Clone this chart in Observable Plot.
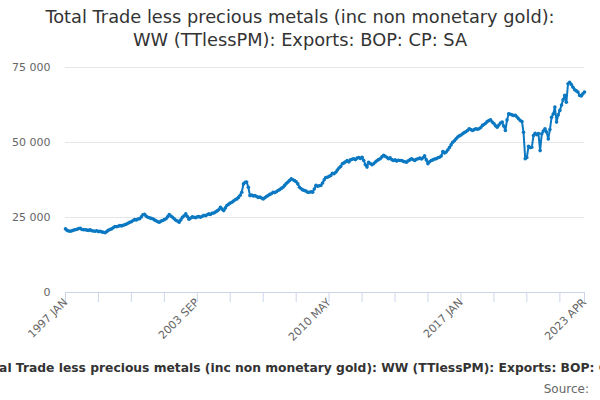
<!DOCTYPE html>
<html>
<head>
<meta charset="utf-8">
<script src="https://cdn.jsdelivr.net/npm/d3@7"></script>
<script src="https://cdn.jsdelivr.net/npm/@observablehq/plot@0.6"></script>
<style>
  html, body { margin: 0; padding: 0; background: #fff; overflow: hidden; }
  body { width: 600px; height: 400px; position: relative; font-family: "DejaVu Sans", sans-serif; }
  #title { position: absolute; top: 5px; left: 0; width: 600px; text-align: center; font-size: 17.8px; line-height: 23px; color: #333; }
  #chart { position: absolute; top: 55px; left: 0; }
  #caption { position: absolute; top: 361px; left: -22px; white-space: nowrap; font-size: 12.3px; font-weight: bold; color: #333; }
  #source { position: absolute; top: 382px; right: 11px; font-size: 12px; color: #666; }
</style>
</head>
<body>
<div id="title">Total Trade less precious metals (inc non monetary gold):<br>WW (TTlessPM): Exports: BOP: CP: SA</div>
<div id="chart"></div>
<div id="caption">Total Trade less precious metals (inc non monetary gold): WW (TTlessPM): Exports: BOP: CP: SA</div>
<div id="source">Source:</div>
<script>
const startMonth = "1997 JAN";
const values = [
  // 1997
  21200, 20700, 20500, 20400, 20600, 20800, 20900, 21100, 21300, 21400, 21000, 20900,
  // 1998
  20900, 20800, 20700, 20900, 20600, 20500, 20400, 20600, 20300, 20400, 20200, 20100,
  // 1999
  19900, 20300, 20700, 21000, 21200, 21600, 22000, 21900, 22100, 22300, 22200, 22400,
  // 2000
  22600, 22800, 23100, 23400, 23600, 24000, 24300, 24200, 24500, 24600, 25200, 25900,
  // 2001
  26100, 25400, 25100, 24900, 24700, 24600, 24200, 23900, 23600, 23400, 23800, 24000,
  // 2002
  24300, 24600, 25200, 26000, 25500, 25100, 24600, 24100, 23800, 23400, 24200, 25100,
  // 2003
  25600, 26200, 25300, 24400, 24800, 25200, 25100, 24900, 25200, 25300, 25100, 25400,
  // 2004
  25700, 25600, 25900, 26200, 26000, 26400, 26500, 26800, 27200, 27600, 28400, 27800,
  // 2005
  27300, 28200, 29000, 29400, 29800, 30100, 30500, 30900, 31200, 31700, 32400, 33400,
  // 2006
  36200, 36700, 36800, 35100, 32300, 32500, 32200, 32300, 32000, 31700, 31800, 31500,
  // 2007
  31200, 31600, 32000, 32300, 32700, 32900, 33400, 33300, 33600, 34000, 34300, 34700,
  // 2008
  35100, 35700, 36300, 36800, 37300, 37900, 37600, 37300, 36900, 36200, 35100, 34600,
  // 2009
  34200, 34000, 33800, 33400, 33400, 33600, 33400, 34500, 35700, 35400, 35600, 35700,
  // 2010
  36500, 37600, 38300, 38400, 38700, 39000, 39700, 39600, 40100, 40800, 41500, 42000,
  // 2011
  42900, 43200, 43600, 44000, 43500, 44200, 44400, 44600, 44300, 44800, 45000, 44700,
  // 2012
  45100, 44000, 42600, 41800, 43400, 43000, 42600, 42900, 43500, 43900, 44300, 44600,
  // 2013
  45200, 45700, 45400, 45100, 44600, 44900, 44300, 44000, 44200, 43800, 44100, 44000,
  // 2014
  44000, 43700, 43600, 43400, 43900, 44200, 44600, 44300, 44000, 44400, 44600, 44800,
  // 2015
  44500, 44900, 45600, 44200, 42900, 43600, 44000, 44200, 44500, 44600, 44900, 45100,
  // 2016
  45500, 47000, 46500, 46800, 47500, 48300, 49200, 50100, 50600, 51200, 51800, 52200,
  // 2017
  52500, 52900, 53300, 53600, 54000, 54600, 54300, 54000, 54300, 54600, 54400, 54600,
  // 2018
  55000, 55700, 56000, 56400, 57000, 57300, 57600, 56800, 56300, 55600, 55100, 55800,
  // 2019
  56500, 56800, 55500, 54000, 57500, 59600, 59400, 59200, 59000, 59100, 58500, 57900,
  // 2020
  57300, 57000, 53400, 44600, 45000, 48700, 48300, 48400, 52300, 53100, 52600, 53000,
  // 2021
  47300, 52900, 53800, 54600, 53500, 51200, 54300, 58400, 59500, 61800, 56800, 59200,
  // 2022
  60700, 62500, 64200, 65700, 63400, 69600, 70100, 69300, 68400, 67600, 67200, 66800,
  // 2023
  65700, 65500, 66200, 66800
];
const xTickLabels = ["1997 JAN", "2003 SEP", "2010 MAY", "2017 JAN", "2023 APR"];
const yTicks = [0, 25000, 50000, 75000];
const minorTickStepMonths = 20;

const parseMonth = d3.utcParse("%Y %b");
const fmtMonth = d3.utcFormat("%Y %b");
const start = parseMonth(startMonth);
const dates = values.map((_, i) => d3.utcMonth.offset(start, i));
const data = values.map((v, i) => ({date: dates[i], value: v}));

const labelDates = xTickLabels.map(parseMonth);
const allTicks = d3.range(0, dates.length, minorTickStepMonths).map(i => dates[i]);
allTicks.push(dates[dates.length - 1]);

const blue = "#0b78c2";
const axisColor = "#ccd6eb";

const chart = Plot.plot({
  width: 600,
  height: 300,
  marginLeft: 65,
  marginRight: 16,
  marginTop: 12,
  marginBottom: 63,
  style: {fontFamily: "'DejaVu Sans', sans-serif", fontSize: "11px", background: "transparent"},
  x: {type: "utc", domain: [dates[0], dates[dates.length - 1]]},
  y: {domain: [0, 75000]},
  marks: [
    Plot.ruleY(yTicks.slice(1), {stroke: "#e6e6e6", strokeWidth: 1}),
    Plot.ruleY([0], {stroke: axisColor, strokeWidth: 1}),
    Plot.axisX({ticks: allTicks, tickSize: 10, tickFormat: () => "", stroke: axisColor, strokeOpacity: 1, label: null}),
    Plot.axisX({ticks: labelDates, tickSize: 0, tickPadding: 8, tickRotate: -45,
      tickFormat: d => fmtMonth(d).toUpperCase(), fill: "#666", label: null}),
    Plot.axisY({ticks: yTicks, tickSize: 0, tickPadding: 15, fill: "#666", label: null,
      tickFormat: d => d3.format(",")(d).replace(/,/g, " ")}),
    Plot.line(data, {x: "date", y: "value", stroke: blue, strokeWidth: 2}),
    Plot.dot(data, {x: "date", y: "value", r: 1.8, fill: blue, stroke: "none"})
  ]
});
document.getElementById("chart").appendChild(chart);
</script>
</body>
</html>
